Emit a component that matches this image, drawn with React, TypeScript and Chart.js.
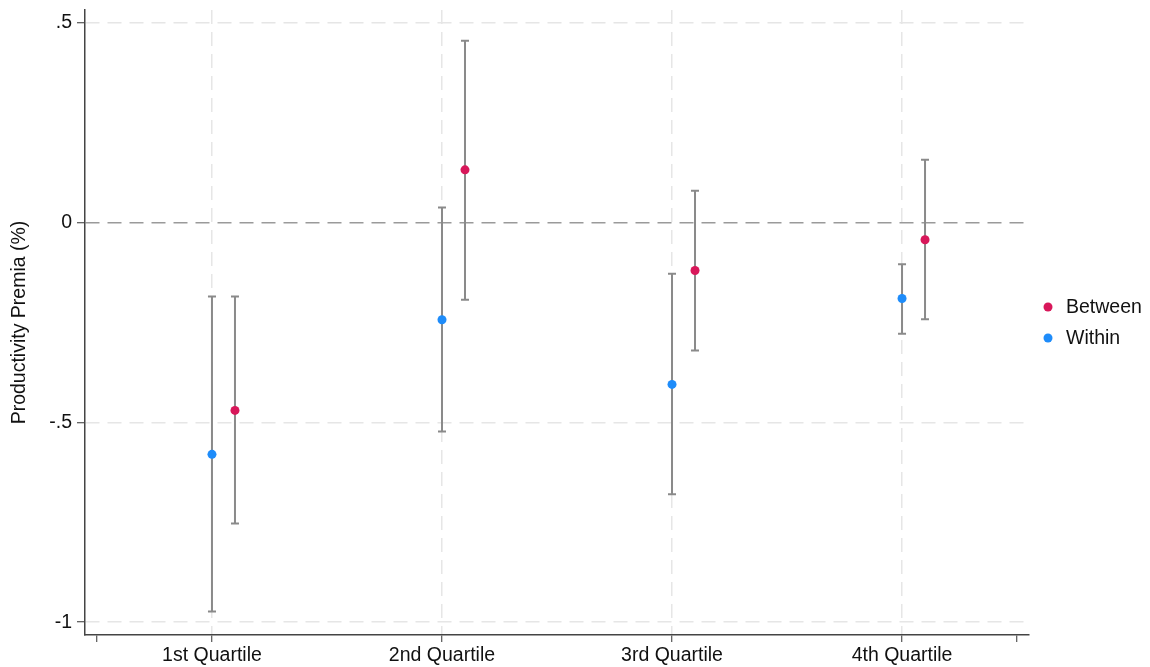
import React, { useEffect, useRef } from "react";
import { Chart, registerables } from "chart.js";

Chart.register(...registerables);

const categories = ["1st Quartile", "2nd Quartile", "3rd Quartile", "4th Quartile"];
const categoryPositions = [1, 2, 3, 4];
const betweenOffset = 0.1;

const betweenEst = [-0.47, 0.132, -0.12, -0.043];
const betweenLo = [-0.753, -0.193, -0.32, -0.242];
const betweenHi = [-0.185, 0.455, 0.08, 0.157];

const withinEst = [-0.58, -0.243, -0.405, -0.19];
const withinLo = [-0.973, -0.523, -0.68, -0.278];
const withinHi = [-0.185, 0.038, -0.128, -0.104];

const yTicks = [0.5, 0, -0.5, -1];
const yTickLabels = [".5", "0", "-.5", "-1"];
const xTicks = [0.5, 1, 2, 3, 4, 4.5];

const BETWEEN_COLOR = "#d8175a";
const WITHIN_COLOR = "#1e8cfa";
const FONT = "'Liberation Sans', Arial, sans-serif";
const FS = 19.5;

const errorBarPlugin = {
  id: "errorBars",
  beforeDatasetsDraw(chart: any) {
    const { ctx, scales } = chart;
    const xs = scales.x;
    const ys = scales.y;
    ctx.save();
    ctx.strokeStyle = "#8a8a8a";
    ctx.lineWidth = 2;
    const draw = (x: number, lo: number, hi: number) => {
      const px = xs.getPixelForValue(x);
      const pl = ys.getPixelForValue(lo);
      const ph = ys.getPixelForValue(hi);
      ctx.beginPath();
      ctx.moveTo(px, pl);
      ctx.lineTo(px, ph);
      ctx.moveTo(px - 4, pl);
      ctx.lineTo(px + 4, pl);
      ctx.moveTo(px - 4, ph);
      ctx.lineTo(px + 4, ph);
      ctx.stroke();
    };
    categoryPositions.forEach((c, i) => {
      draw(c, withinLo[i], withinHi[i]);
      draw(c + betweenOffset, betweenLo[i], betweenHi[i]);
    });
    ctx.restore();
  },
};

const legendPlugin = {
  id: "customLegend",
  afterDraw(chart: any) {
    const { ctx } = chart;
    const ds = chart.data.datasets;
    ctx.save();
    ctx.font = `${FS}px ${FONT}`;
    ctx.textBaseline = "middle";
    ctx.textAlign = "left";
    ds.forEach((d: any, i: number) => {
      const y = 307 + i * 31;
      ctx.fillStyle = d.backgroundColor;
      ctx.beginPath();
      ctx.arc(1048, y, 4.5, 0, Math.PI * 2);
      ctx.fill();
      ctx.fillStyle = "#111";
      ctx.fillText(d.label, 1066, y + 1);
    });
    ctx.restore();
  },
};

export default function App() {
  const ref = useRef<HTMLCanvasElement>(null);
  useEffect(() => {
    if (!ref.current) return;
    const chart = new Chart(ref.current, {
      type: "scatter",
      data: {
        datasets: [
          {
            label: "Between",
            data: categoryPositions.map((c, i) => ({ x: c + betweenOffset, y: betweenEst[i] })),
            backgroundColor: BETWEEN_COLOR,
            borderColor: BETWEEN_COLOR,
            pointRadius: 4.5,
            pointBorderWidth: 0,
          },
          {
            label: "Within",
            data: categoryPositions.map((c, i) => ({ x: c, y: withinEst[i] })),
            backgroundColor: WITHIN_COLOR,
            borderColor: WITHIN_COLOR,
            pointRadius: 4.5,
            pointBorderWidth: 0,
          },
        ],
      },
      options: {
        responsive: false,
        animation: false,
        layout: { padding: { top: 10, right: 121, left: 0, bottom: 0 } },
        plugins: { legend: { display: false }, tooltip: { enabled: false } },
        scales: {
          x: {
            type: "linear",
            min: 0.448,
            max: 4.552,
            afterBuildTicks: (scale: any) => {
              scale.ticks = xTicks.map((v) => ({ value: v }));
            },
            afterFit: (scale: any) => {
              scale.height = 32;
              scale.paddingLeft = 0;
              scale.paddingRight = 0;
            },
            ticks: {
              autoSkip: false,
              maxRotation: 0,
              padding: 2,
              color: "#111",
              font: { size: FS, family: FONT },
              callback: (v: any) => {
                const idx = categoryPositions.indexOf(Number(v));
                return idx >= 0 ? categories[idx] : "";
              },
            },
            grid: {
              color: (c: any) =>
                c.tick && (c.tick.value === 0.5 || c.tick.value === 4.5) ? "rgba(0,0,0,0)" : "#e6e6e6",
              lineWidth: 1.5,
              tickLength: 7,
              tickColor: "#333",
              tickBorderDash: [],
              tickWidth: 1,
            },
            border: { color: "#444", width: 1.5, dash: [14, 8] },
          },
          y: {
            type: "linear",
            min: -1.032,
            max: 0.532,
            afterBuildTicks: (scale: any) => {
              scale.ticks = yTicks.map((v) => ({ value: v }));
            },
            afterFit: (scale: any) => {
              scale.width = 85;
              scale.paddingTop = 0;
              scale.paddingBottom = 0;
            },
            ticks: {
              padding: 5,
              color: "#111",
              font: { size: FS, family: FONT },
              callback: (v: any) => {
                const idx = yTicks.indexOf(Number(v));
                return idx >= 0 ? yTickLabels[idx] : "";
              },
            },
            grid: {
              color: (c: any) => (c.tick && c.tick.value === 0 ? "#9a9a9a" : "#e6e6e6"),
              lineWidth: 1.5,
              tickLength: 8,
              tickColor: "#333",
              tickBorderDash: [],
              tickWidth: 1,
            },
            border: { color: "#444", width: 1.5, dash: [14, 8] },
            title: {
              display: true,
              text: "Productivity Premia (%)",
              color: "#111",
              font: { size: FS, family: FONT },
              padding: { top: 8, bottom: 0 },
            },
          },
        },
      },
      plugins: [errorBarPlugin, legendPlugin],
    } as any);
    return () => chart.destroy();
  }, []);
  return (
    <div style={{ position: "fixed", left: 0, top: 0, width: 1150, height: 667, background: "#fff" }}>
      <canvas ref={ref} width={1150} height={667} />
    </div>
  );
}
